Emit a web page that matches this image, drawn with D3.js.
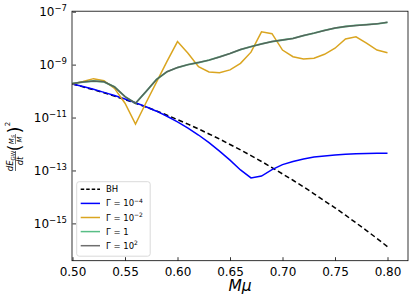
<!DOCTYPE html>
<html>
<head>
<meta charset="utf-8">
<script src="https://cdn.jsdelivr.net/npm/d3@7"></script>
<style>
  body { margin: 0; background: #fff; }
  svg text { font-family: "DejaVu Sans", sans-serif; }
</style>
</head>
<body>
<div id="chart"></div>
<script>
// M*mu grid
const mMu = [0.50, 0.51, 0.52, 0.53, 0.54, 0.55, 0.56, 0.57, 0.58, 0.59, 0.60,
  0.61, 0.62, 0.63, 0.64, 0.65, 0.66, 0.67, 0.68, 0.69, 0.70,
  0.71, 0.72, 0.73, 0.74, 0.75, 0.76, 0.77, 0.78, 0.79, 0.80]

// log10 of dE/dt (Ms/M)^2
const logBH = [-9.73, -9.84, -9.95, -10.06, -10.19, -10.32, -10.46, -10.60, -10.75, -10.91, -11.08,
  -11.25, -11.43, -11.62, -11.81, -12.02, -12.22, -12.44, -12.66, -12.89, -13.13,
  -13.37, -13.62, -13.88, -14.15, -14.41, -14.69, -14.98, -15.27, -15.57, -15.88]
const logG1e4 = [-9.73, -9.83, -9.93, -10.05, -10.17, -10.30, -10.44, -10.59, -10.76, -10.95, -11.16,
  -11.40, -11.66, -11.95, -12.27, -12.61, -12.98, -13.28, -13.21, -12.97, -12.78,
  -12.66, -12.57, -12.49, -12.45, -12.42, -12.39, -12.37, -12.36, -12.35, -12.35]
const logG1e2 = [-9.73, -9.64, -9.53, -9.61, -9.90, -10.46, -11.25, -10.44, -9.66, -8.88, -8.13,
  -8.57, -9.08, -9.28, -9.31, -9.20, -8.95, -8.53, -7.76, -7.83, -8.45,
  -8.70, -8.79, -8.76, -8.61, -8.38, -8.03, -7.95, -8.19, -8.45, -8.55]
const logG1 = [-9.71, -9.66, -9.62, -9.65, -9.84, -10.21, -10.46, -10.02, -9.56, -9.27, -9.11,
  -9.00, -8.92, -8.83, -8.71, -8.58, -8.43, -8.32, -8.22, -8.13, -8.07,
  -8.01, -7.90, -7.81, -7.71, -7.62, -7.56, -7.52, -7.49, -7.46, -7.40]
const logG100 = [-9.71, -9.66, -9.62, -9.65, -9.84, -10.21, -10.46, -10.02, -9.56, -9.27, -9.11,
  -9.00, -8.92, -8.83, -8.71, -8.58, -8.43, -8.32, -8.22, -8.13, -8.07,
  -8.01, -7.90, -7.81, -7.71, -7.62, -7.56, -7.52, -7.49, -7.46, -7.40]

const xTicks = [0.50, 0.55, 0.60, 0.65, 0.70, 0.75, 0.80]
const yTickExps = [-7, -9, -11, -13, -15]

const series = [
  { name: 'BH', exp: null, vals: logBH, color: '#000', width: 1.5, dash: '5,3', opacity: 1 },
  { name: 'Γ = 10', exp: '−4', vals: logG1e4, color: '#0000ff', width: 1.5, dash: null, opacity: 1 },
  { name: 'Γ = 10', exp: '−2', vals: logG1e2, color: '#daa520', width: 1.5, dash: null, opacity: 1 },
  { name: 'Γ = 1', exp: null, vals: logG1, color: '#3cb371', width: 1.8, dash: null, opacity: 0.85 },
  { name: 'Γ = 10', exp: '2', vals: logG100, color: '#555555', width: 1.5, dash: null, opacity: 0.85 }
]

const width = 415
const height = 305
const mLeft = 72.5
const mRight = 408.5
const mTop = 11.7
const mBottom = 260.7

const svg = d3.select('#chart').append('svg')
  .attr('width', width)
  .attr('height', height)

const x = d3.scaleLinear().domain([0.5, 0.82]).range([mLeft, mRight])
const y = d3.scaleLog().domain([Math.pow(10, -16.41), 1e-7]).range([mBottom, mTop])

// lines
const line = d3.line()
  .x((d, i) => x(mMu[i]))
  .y(d => y(Math.pow(10, d)))

series.forEach(s => {
  svg.append('path')
    .datum(s.vals)
    .attr('d', line)
    .attr('fill', 'none')
    .attr('stroke', s.color)
    .attr('stroke-width', s.width)
    .attr('stroke-dasharray', s.dash)
    .attr('opacity', s.opacity)
})

// axes, ticks pointing in
const xAxis = svg.append('g')
  .attr('transform', `translate(0,${mBottom})`)
  .call(d3.axisBottom(x).tickValues(xTicks).tickSize(-3.5).tickPadding(6.5)
    .tickFormat(d3.format('.2f')))
xAxis.select('.domain').remove()
xAxis.selectAll('text').attr('font-size', 12).attr('fill', '#000')
xAxis.selectAll('line').attr('stroke', '#000').attr('stroke-width', 0.8)

const yAxis = svg.append('g')
  .attr('transform', `translate(${mLeft},0)`)
  .call(d3.axisLeft(y).tickValues(yTickExps.map(e => Math.pow(10, e))).tickSize(-3.5).tickFormat(''))
yAxis.select('.domain').remove()
yAxis.selectAll('line').attr('stroke', '#000').attr('stroke-width', 0.8)

yTickExps.forEach(e => {
  const t = svg.append('text')
    .attr('x', 67)
    .attr('y', y(Math.pow(10, e)) + 4.5)
    .attr('text-anchor', 'end')
    .attr('font-size', 12)
  t.append('tspan').text('10')
  t.append('tspan').attr('dy', -5).attr('font-size', 8.5).text('−' + Math.abs(e))
})

// frame
svg.append('rect')
  .attr('x', mLeft - 0.5)
  .attr('y', mTop - 0.5)
  .attr('width', mRight - mLeft)
  .attr('height', mBottom - mTop + 0.5)
  .attr('fill', 'none')
  .attr('stroke', '#000')
  .attr('stroke-width', 0.8)

// x label
svg.append('text')
  .attr('x', 240)
  .attr('y', 290.5)
  .attr('text-anchor', 'middle')
  .attr('font-size', 15.5)
  .attr('font-style', 'italic')
  .text('Mμ')

// y label: dE_GW/dt (M_S/M)^2, rotated
const yl = svg.append('g').attr('transform', 'translate(15.5,146) rotate(-90)')
const num = yl.append('text').attr('x', -15).attr('y', -2.2).attr('text-anchor', 'middle').attr('font-size', 8.5)
num.append('tspan').attr('font-style', 'italic').text('dE')
num.append('tspan').attr('dy', 1.8).attr('font-size', 5.5).text('GW')
yl.append('line').attr('x1', -25).attr('x2', -5).attr('y1', 0).attr('y2', 0)
  .attr('stroke', '#000').attr('stroke-width', 0.6)
yl.append('text').attr('x', -15).attr('y', 7.3).attr('text-anchor', 'middle').attr('font-size', 8.5)
  .attr('font-style', 'italic').text('dt')
yl.append('text').attr('x', -2).attr('y', 5.5).attr('text-anchor', 'middle').attr('font-size', 17).text('(')
const inum = yl.append('text').attr('x', 6.5).attr('y', -1.8).attr('text-anchor', 'middle').attr('font-size', 7)
inum.append('tspan').attr('font-style', 'italic').text('M')
inum.append('tspan').attr('dy', 1.5).attr('font-size', 5).attr('font-style', 'italic').text('S')
yl.append('line').attr('x1', 2).attr('x2', 12).attr('y1', 0).attr('y2', 0)
  .attr('stroke', '#000').attr('stroke-width', 0.5)
yl.append('text').attr('x', 6.5).attr('y', 6.8).attr('text-anchor', 'middle').attr('font-size', 7)
  .attr('font-style', 'italic').text('M')
yl.append('text').attr('x', 16).attr('y', 5.5).attr('text-anchor', 'middle').attr('font-size', 17).text(')')
yl.append('text').attr('x', 22).attr('y', -5.5).attr('text-anchor', 'middle').attr('font-size', 7).text('2')

// legend
svg.append('rect')
  .attr('x', 76.7).attr('y', 181.7).attr('width', 73.5).attr('height', 74.5)
  .attr('rx', 2.5)
  .attr('fill', '#fff').attr('fill-opacity', 0.8)
  .attr('stroke', '#d0d0d0').attr('stroke-width', 0.8)

series.forEach((s, i) => {
  const ly = 189.3 + i * 14.1
  svg.append('line')
    .attr('x1', 80.7).attr('x2', 100).attr('y1', ly).attr('y2', ly)
    .attr('stroke', s.color)
    .attr('stroke-width', 1.5)
    .attr('stroke-dasharray', s.dash ? '3.5,2' : null)
    .attr('opacity', s.opacity)
  const t = svg.append('text')
    .attr('x', 106).attr('y', ly + 3)
    .attr('font-size', 8.5)
  t.append('tspan').text(s.name)
  if (s.exp) t.append('tspan').attr('dy', -3.5).attr('font-size', 6).text(s.exp)
})
</script>
</body>
</html>
